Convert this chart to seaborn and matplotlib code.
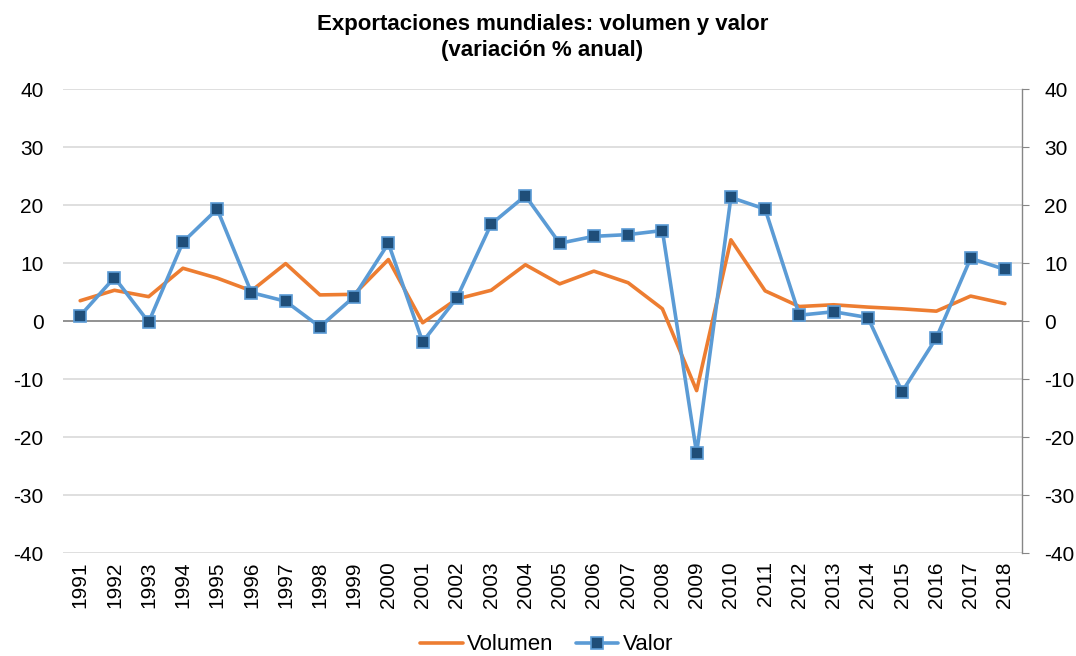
import numpy as np
import pandas as pd
import matplotlib
matplotlib.use("Agg")
import matplotlib.pyplot as plt
import seaborn as sns

years = list(range(1991, 2019))
volumen = [3.5, 5.3, 4.2, 9.1, 7.4, 5.2, 9.9, 4.5, 4.6, 10.6,
           -0.3, 3.8, 5.3, 9.7, 6.4, 8.6, 6.6, 2.1, -12.0, 14.0,
           5.2, 2.5, 2.8, 2.4, 2.1, 1.7, 4.3, 3.0]
valor = [0.9, 7.5, -0.2, 13.6, 19.3, 4.9, 3.4, -1.0, 4.2, 13.4,
         -3.6, 4.0, 16.7, 21.6, 13.4, 14.6, 14.9, 15.6, -22.8, 21.3,
         19.3, 1.0, 1.6, 0.6, -12.2, -2.9, 10.8, 8.9]
y_ticks = list(range(-40, 41, 10))

df = pd.DataFrame({"year": years, "Volumen": volumen, "Valor": valor})

sns.set_style("white")
plt.rcParams["font.family"] = ["Liberation Sans", "DejaVu Sans"]
plt.rcParams["text.color"] = "black"
plt.rcParams["xtick.color"] = "black"
plt.rcParams["ytick.color"] = "black"

fig = plt.figure(figsize=(10.76, 6.56), dpi=100)
ax = fig.add_axes([0.0586, 0.157, 0.8912, 0.7073])

for y in y_ticks:
    ax.axhline(y, color="#D9D9D9", lw=1.2, zorder=0)
ax.axhline(0, color="#868686", lw=1.2, zorder=1)

sns.lineplot(data=df, x="year", y="Volumen", ax=ax, color="#ED7D31",
             lw=2.6, label="Volumen", zorder=3)
sns.lineplot(data=df, x="year", y="Valor", ax=ax, color="#5B9BD5",
             lw=2.6, marker="s", markersize=9, markerfacecolor="#1F4E79",
             markeredgecolor="#5B9BD5", markeredgewidth=1.2,
             label="Valor", zorder=4)

ax.set_xlim(years[0] - 0.5, years[-1] + 0.5)
ax.set_ylim(-40, 40)
ax.set_xticks(years)
ax.set_xticklabels([str(y) for y in years], rotation=90, fontsize=15)
ax.set_yticks(y_ticks)
ax.set_yticklabels([str(y) for y in y_ticks], fontsize=15)
ax.tick_params(axis="x", length=0, pad=6)
ax.tick_params(axis="y", length=0, pad=14)
ax.set_xlabel("")
ax.set_ylabel("")
for s in ax.spines.values():
    s.set_visible(False)

ax2 = ax.twinx()
ax2.set_ylim(-40, 40)
ax2.set_yticks(y_ticks)
ax2.set_yticklabels([str(y) for y in y_ticks], fontsize=15)
ax2.tick_params(axis="y", length=5, color="#868686", labelcolor="black", pad=11)
for name, s in ax2.spines.items():
    s.set_visible(name == "right")
ax2.spines["right"].set_color("#868686")
ax2.spines["right"].set_linewidth(1.0)

ax.set_title("Exportaciones mundiales: volumen y valor\n(variación % anual)",
             fontsize=16, fontweight="bold", pad=24, linespacing=1.3)

ax.legend(loc="lower center", bbox_to_anchor=(0.508, -0.006),
          bbox_transform=fig.transFigure, borderaxespad=0.1, borderpad=0.1,
          ncol=2, frameon=False, fontsize=16, handlelength=1.9,
          columnspacing=1.0, handletextpad=0.2)

fig.savefig("out.png", dpi=100)
